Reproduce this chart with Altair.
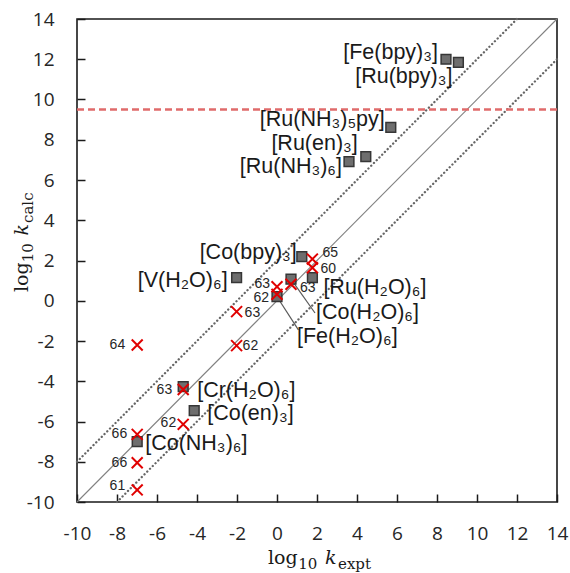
import altair as alt
import pandas as pd

# ---------------- data ----------------
complex_names = ["[Fe(bpy)₃]", "[Ru(bpy)₃]", "[Ru(NH₃)₅py]", "[Ru(en)₃]", "[Ru(NH₃)₆]",
                 "[Co(bpy)₃]", "[V(H₂O)₆]", "[Ru(H₂O)₆]", "[Co(H₂O)₆]", "[Fe(H₂O)₆]",
                 "[Cr(H₂O)₆]", "[Co(en)₃]", "[Co(NH₃)₆]"]
complex_expt = [8.45, 9.07, 5.69, 4.44, 3.60, 1.24, -2.02, 1.77, 0.70, 0.00, -4.69, -4.14, -6.99]
complex_calc = [12.00, 11.85, 8.62, 7.16, 6.91, 2.19, 1.15, 1.15, 1.07, 0.20, -4.27, -5.46, -7.00]

ref_ids = ["65", "60", "63", "63", "62", "63", "64", "62", "63", "62", "66", "66", "61"]
ref_expt = [1.77, 1.77, 0.70, 0.00, 0.00, -2.02, -6.99, -2.02, -4.69, -4.69, -6.99, -6.99, -6.99]
ref_calc = [2.07, 1.64, 0.82, 0.70, 0.32, -0.54, -2.20, -2.23, -4.41, -6.14, -6.64, -8.05, -9.40]

diag_offsets = [0, 2, -2]
limit_value = 9.5
tick_values = list(range(-10, 15, 2))

# leader lines: complex index -> end point (data units)
leader_index = [8, 9]
leader_end_x = [1.90, 1.07]
leader_end_y = [-0.61, -1.45]

# ---------------- layout / style ----------------
W, H = 480, 483
XDOM, YDOM = [-10, 14], [-10, 14]
ppx = W / (XDOM[1] - XDOM[0])
ppy = H / (YDOM[1] - YDOM[0])

# label pixel offsets (dx, dy, align)
complex_label_style = [(-8, -6, "right"), (-6, 15, "right"), (-6, -7, "right"), (-8, -13, "right"),
                       (-7, 5, "right"), (-5, -4, "right"), (-9, 3, "right"), (11, 10, "left"),
                       (25, 34, "left"), (20, 40, "left"), (14, 4, "left"), (13, 3, "left"),
                       (8, 2, "left")]
ref_label_style = [(10, -6, "left"), (8, 1, "left"), (9, 4, "left"), (-7, -3, "right"),
                   (-8, 4, "right"), (8, 1, "left"), (-12, 0, "right"), (6, 0, "left"),
                   (-11, 0, "right"), (-7, -1, "right"), (-10, 0, "right"), (-10, 0, "right"),
                   (-12, -4, "right")]

xs = alt.Scale(domain=XDOM, nice=False, zero=False)
ys = alt.Scale(domain=YDOM, nice=False, zero=False)

TICK_FONT = "Open Sans"
LBL = "toString(datum.value)"
x_axis_main = alt.Axis(values=tick_values, orient="bottom", ticks=False, domain=False, grid=False,
                       labelFont=TICK_FONT, labelFontSize=19, labelColor="#262626", labelPadding=22,
                       labelFlush=False, labelOverlap=False, labelExpr=LBL, title=None)
y_axis_main = alt.Axis(values=tick_values, orient="left", ticks=False, domain=False, grid=False,
                       labelFont=TICK_FONT, labelFontSize=19, labelColor="#262626", labelPadding=23,
                       labelFlush=False, labelOverlap=False, labelExpr=LBL, title=None)
x_axis_ticks = alt.Axis(values=tick_values, orient="top", offset=-H, labels=False, domain=False,
                        grid=False, ticks=True, tickSize=8, tickColor="#1a1a1a", tickWidth=1.5, title=None)
y_axis_ticks = alt.Axis(values=tick_values, orient="right", offset=-W, labels=False, domain=False,
                        grid=False, ticks=True, tickSize=8, tickColor="#1a1a1a", tickWidth=1.5, title=None)

# ---------------- tables ----------------
diag_rows = []
for off in diag_offsets:
    x1 = max(XDOM[0], YDOM[0] - off)
    x2 = min(XDOM[1], YDOM[1] - off)
    diag_rows.append({"off": off, "x1": x1, "y1": x1 + off, "x2": x2, "y2": x2 + off})
diag = pd.DataFrame(diag_rows)

cx = pd.DataFrame({"name": complex_names, "x": complex_expt, "y": complex_calc})
cx["lx"] = [x + s[0] / ppx for x, s in zip(complex_expt, complex_label_style)]
cx["ly"] = [y - s[1] / ppy for y, s in zip(complex_calc, complex_label_style)]
cx["anchor"] = [s[2] for s in complex_label_style]

rf = pd.DataFrame({"id": ref_ids, "x": ref_expt, "y": ref_calc})
rf["lx"] = [x + s[0] / ppx for x, s in zip(ref_expt, ref_label_style)]
rf["ly"] = [y - s[1] / ppy for y, s in zip(ref_calc, ref_label_style)]
rf["anchor"] = [s[2] for s in ref_label_style]

lead = pd.DataFrame({"x1": [complex_expt[i] for i in leader_index],
                     "y1": [complex_calc[i] for i in leader_index],
                     "x2": leader_end_x, "y2": leader_end_y})

lim = pd.DataFrame({"y": [limit_value]})

# ---------------- layers ----------------
diag_solid = alt.Chart(diag[diag["off"] == 0]).mark_rule(color="#808080", strokeWidth=1.1).encode(
    x=alt.X("x1:Q", scale=xs, axis=x_axis_main), y=alt.Y("y1:Q", scale=ys, axis=y_axis_main),
    x2="x2:Q", y2="y2:Q")
diag_dot = alt.Chart(diag[diag["off"] != 0]).mark_rule(
    color="#666666", strokeWidth=2.3, strokeDash=[0.1, 3.8], strokeCap="round").encode(
    x=alt.X("x1:Q", scale=xs, axis=None), y=alt.Y("y1:Q", scale=ys, axis=None),
    x2="x2:Q", y2="y2:Q")
limit_rule = alt.Chart(lim).mark_rule(color="#e06b6b", strokeWidth=2.5, strokeDash=[7, 4]).encode(
    y=alt.Y("y:Q", scale=ys, axis=y_axis_ticks))
leaders = alt.Chart(lead).mark_rule(color="#5a5a5a", strokeWidth=1.2).encode(
    x=alt.X("x1:Q", scale=xs, axis=x_axis_ticks), y=alt.Y("y1:Q", scale=ys, axis=None),
    x2="x2:Q", y2="y2:Q")
squares = alt.Chart(cx).mark_point(shape="square", filled=True, fill="#6e6e6e", stroke="#363636",
                                   strokeWidth=1.5, size=95, opacity=1).encode(
    x=alt.X("x:Q", scale=xs, axis=None), y=alt.Y("y:Q", scale=ys, axis=None))
crosses = alt.Chart(rf).mark_point(shape="M-1,-1L1,1M-1,1L1,-1", filled=False, stroke="#e00000",
                                   strokeWidth=2, size=120, opacity=1).encode(
    x=alt.X("x:Q", scale=xs, axis=None), y=alt.Y("y:Q", scale=ys, axis=None))

label_layers = []
for al in ["left", "right"]:
    label_layers.append(
        alt.Chart(cx[cx["anchor"] == al]).mark_text(align=al, baseline="middle", font="Liberation Sans",
                                                    fontSize=21.5, color="#1a1a1a").encode(
            x=alt.X("lx:Q", scale=xs, axis=None), y=alt.Y("ly:Q", scale=ys, axis=None), text="name:N"))
    label_layers.append(
        alt.Chart(rf[rf["anchor"] == al]).mark_text(align=al, baseline="middle", font="Liberation Sans",
                                                    fontSize=14, color="#262626").encode(
            x=alt.X("lx:Q", scale=xs, axis=None), y=alt.Y("ly:Q", scale=ys, axis=None), text="id:N"))

# axis titles built from pieces (log, subscript 10, italic k, subscript)
TF = "DejaVu Serif"
title_pieces = [
    # text, x, y, size, style, angle
    ("log", 191, 545, 19, "normal", 0),
    ("10", 221.2, 550, 15, "normal", 0),
    ("k", 248, 545, 19, "italic", 0),
    ("expt", 261, 550, 15, "normal", 0),
    ("log", -49, 273, 19, "normal", 270),
    ("10", -44, 243.3, 15, "normal", 270),
    ("k", -49, 216.5, 19, "italic", 270),
    ("calc", -44, 204, 15, "normal", 270),
]
one = pd.DataFrame({"v": [0]})
title_layers = []
for t, px, py, fs, st, ang in title_pieces:
    title_layers.append(
        alt.Chart(one).mark_text(text=t, align="left", baseline="alphabetic", font=TF, fontSize=fs,
                                 fontStyle=st, angle=ang, color="#1a1a1a").encode(
            x=alt.value(px), y=alt.value(py)))

chart = alt.layer(diag_solid, diag_dot, limit_rule, leaders, squares, crosses,
                  *label_layers, *title_layers).resolve_axis(
    x="independent", y="independent").properties(
    width=W, height=H, autosize=alt.AutoSizeParams(type="none"),
    padding={"left": 77, "top": 19, "right": 13, "bottom": 71}).configure_view(
    stroke="#1a1a1a", strokeWidth=1.6)

chart.save("out.html", embed_options={"renderer": "svg", "actions": False})
